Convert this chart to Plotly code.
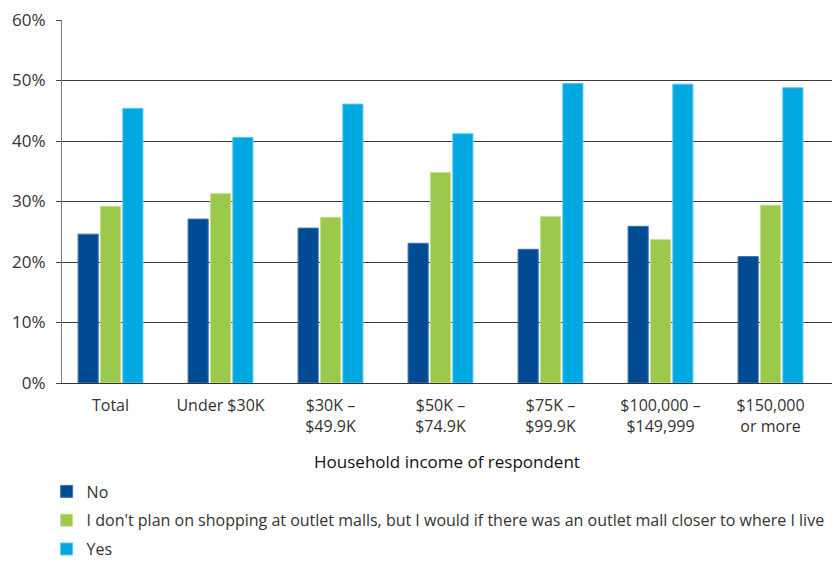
import plotly.graph_objects as go

# Income brackets shown along the x axis
categories = [
    "Total",
    "Under $30K",
    "$30K –<br>$49.9K",
    "$50K –<br>$74.9K",
    "$75K –<br>$99.9K",
    "$100,000 –<br>$149,999",
    "$150,000<br>or more",
]

# Share of respondents (%) per answer
no_vals = [24.6, 27.1, 25.6, 23.1, 22.1, 25.9, 20.9]
closer_vals = [29.2, 31.3, 27.4, 34.8, 27.5, 23.7, 29.4]
yes_vals = [45.4, 40.6, 46.1, 41.2, 49.5, 49.4, 48.8]

series_names = [
    "No",
    "I don't plan on shopping at outlet malls, but I would if there was an outlet mall closer to where I live",
    "Yes",
]
series_values = [no_vals, closer_vals, yes_vals]
series_colors = ["#004B93", "#9BC94B", "#00A8E2"]
series_edges = ["#3f74ad", "#c3e08f", "#5cc8ef"]

y_ticks = [0, 10, 20, 30, 40, 50, 60]
y_tick_text = [f"{t}%" for t in y_ticks]

FONT = "Open Sans"

fig = go.Figure()
for i, (name, vals, col, edge) in enumerate(zip(series_names, series_values, series_colors, series_edges)):
    fig.add_trace(go.Bar(
        x=categories,
        y=vals,
        name=name,
        marker=dict(color=col, line=dict(color=edge, width=1)),
        legendgroup=f"g{i}",
        hovertemplate="%{y:.1f}%<extra></extra>",
    ))

fig.update_layout(
    width=835,
    height=563,
    margin=dict(l=62, r=3, t=20, b=180, autoexpand=False),
    paper_bgcolor="white",
    plot_bgcolor="white",
    barmode="group",
    bargap=0.39,
    bargroupgap=0.1,
    font=dict(family=FONT, size=16, color="#333333"),
    showlegend=True,
    legend=dict(
        orientation="v",
        x=-0.02,
        xanchor="left",
        y=-0.252,
        yanchor="top",
        font=dict(family=FONT, size=16, color="#333333"),
        tracegroupgap=5,
        itemwidth=30,
        bgcolor="rgba(0,0,0,0)",
    ),
    xaxis=dict(
        type="category",
        range=[-0.441, 6.559],
        automargin=False,
        showgrid=False,
        showline=True,
        linecolor="#333333",
        linewidth=1,
        ticks="outside",
        ticklen=8,
        tickcolor="rgba(0,0,0,0)",
        tickfont=dict(family=FONT, size=16, color="#333333"),
        title=dict(
            text="Household income of respondent",
            font=dict(family=FONT, size=17, color="#111111"),
            standoff=20,
        ),
        fixedrange=True,
    ),
    yaxis=dict(
        range=[0, 60],
        automargin=False,
        tickvals=y_ticks,
        ticktext=y_tick_text,
        showgrid=True,
        gridcolor="#3a3a3a",
        gridwidth=1,
        zeroline=False,
        showline=True,
        linecolor="#7a7a7a",
        linewidth=1,
        ticks="outside",
        ticklen=5,
        tickcolor="#444444",
        ticklabelstandoff=7,
        tickfont=dict(family=FONT, size=17, color="#333333"),
        fixedrange=True,
    ),
)

fig.write_html("out.html")
